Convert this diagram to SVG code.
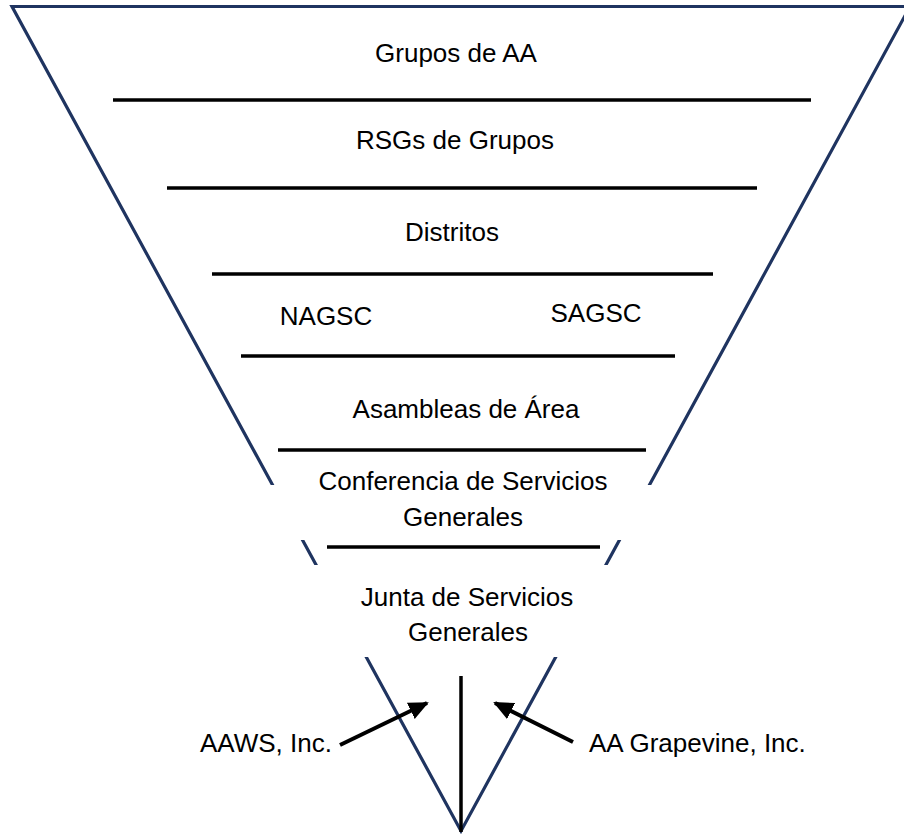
<svg xmlns="http://www.w3.org/2000/svg" width="904" height="838" viewBox="0 0 904 838">
<style>
.tri{fill:none;stroke:#1F3460;stroke-width:3.2;stroke-linejoin:miter}
.sep{stroke:#000;stroke-width:3.5;fill:none}
.arr{stroke:#000;stroke-width:4;fill:none}
.bg{fill:#fff;stroke:none}
text{font-family:"Liberation Sans",Arial,sans-serif;font-size:26px;fill:#000}
.c{text-anchor:middle}
</style>
<defs>
<marker id="ah" markerUnits="userSpaceOnUse" markerWidth="20" markerHeight="18" refX="18" refY="9" orient="auto">
<path d="M0,0 L20,9 L0,18 Z" fill="#000"/>
</marker>
</defs>
<rect width="904" height="838" fill="#fff"/>
<g id="funnel">
<polygon class="tri" points="12,6.5 910,6.5 461,831"/>
<rect class="bg" x="262" y="485" width="400" height="55"/>
<rect class="bg" x="296" y="565" width="330" height="92"/>
</g>
<g id="levels">
<line class="sep" x1="113" y1="100" x2="811" y2="100"/>
<line class="sep" x1="167" y1="188" x2="757" y2="188"/>
<line class="sep" x1="212" y1="274" x2="713" y2="274"/>
<line class="sep" x1="241" y1="356" x2="675" y2="356"/>
<line class="sep" x1="278" y1="450" x2="646" y2="450"/>
<line class="sep" x1="327" y1="547" x2="600" y2="547"/>
</g>
<g id="n-grupos"><text class="c" x="456" y="62">Grupos de AA</text></g>
<g id="n-rsgs"><text class="c" x="455" y="149">RSGs de Grupos</text></g>
<g id="n-distritos"><text class="c" x="452" y="241">Distritos</text></g>
<g id="n-nagsc"><text class="c" x="326" y="325">NAGSC</text></g>
<g id="n-sagsc"><text class="c" x="596" y="322">SAGSC</text></g>
<g id="n-asambleas"><text class="c" x="466" y="418">Asambleas de Área</text></g>
<g id="n-conferencia"><text class="c" x="463" y="490">Conferencia de Servicios</text><text class="c" x="463" y="526">Generales</text></g>
<g id="n-junta"><text class="c" x="467" y="606">Junta de Servicios</text><text class="c" x="468" y="641">Generales</text></g>
<g id="n-aaws"><text x="200" y="752">AAWS, Inc.</text></g>
<g id="n-grapevine"><text x="589" y="752">AA Grapevine, Inc.</text></g>
<g id="connectors">
<line class="sep" x1="461" y1="676" x2="461" y2="832" stroke-width="3"/>
<line class="arr" x1="340" y1="745" x2="427" y2="703" marker-end="url(#ah)"/>
<line class="arr" x1="573" y1="742" x2="495" y2="703" marker-end="url(#ah)"/>
</g>
</svg>
